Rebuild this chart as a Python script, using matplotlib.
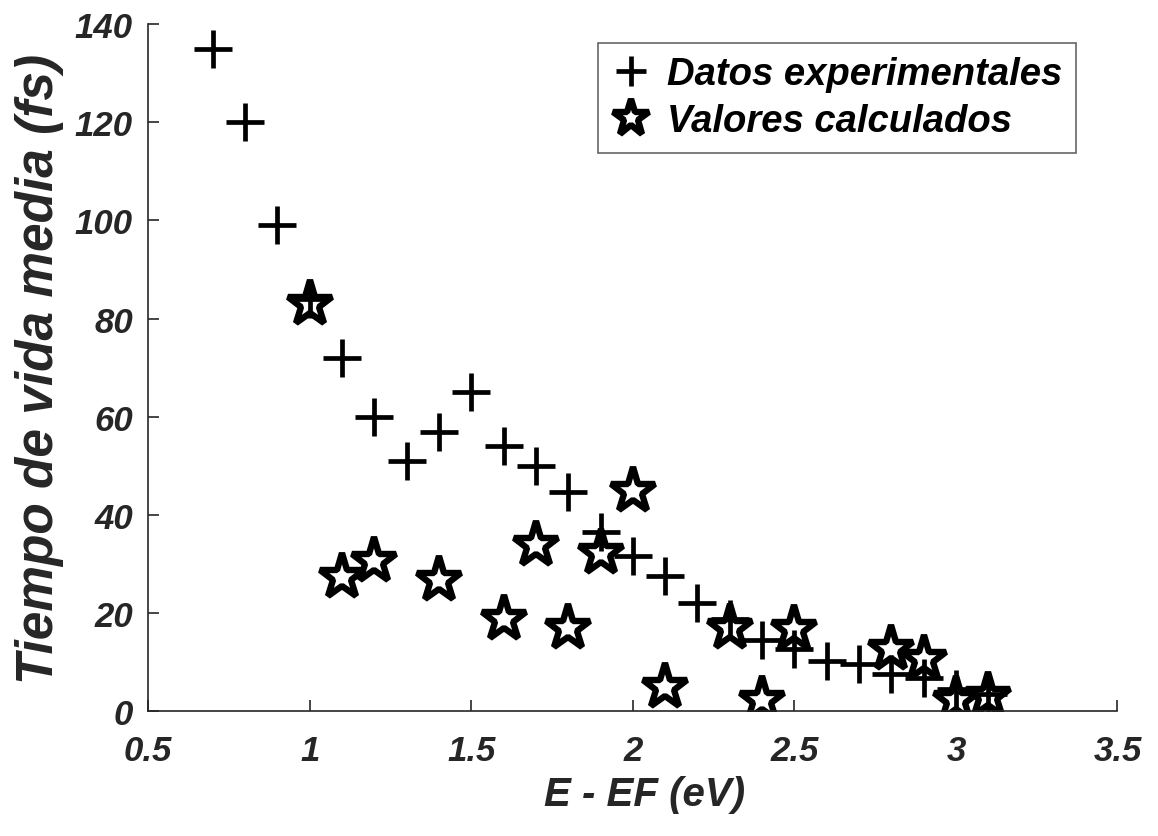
import matplotlib.pyplot as plt

# datos
exp_x = [0.7, 0.8, 0.9, 1.0, 1.1, 1.2, 1.3, 1.4, 1.5, 1.6, 1.7, 1.8, 1.9, 2.0,
         2.1, 2.2, 2.3, 2.4, 2.5, 2.6, 2.7, 2.8, 2.9, 3.0, 3.1]
exp_y = [135, 120, 99, 84, 72, 60, 51, 57, 65, 54, 50, 44.6, 36.5, 31.6,
         27.5, 22, 18.7, 14.6, 12.6, 10.2, 9.6, 7.5, 6.7, 4.5, 3.5]

calc_x = [1.0, 1.1, 1.2, 1.4, 1.6, 1.7, 1.8, 1.9, 2.0, 2.1, 2.3, 2.4, 2.5,
          2.8, 2.9, 3.0, 3.1]
calc_y = [83, 27.3, 30.7, 26.7, 18.7, 33.8, 16.9, 32.3, 44.8, 4.9, 17, 2.4,
          16.7, 12.6, 10.6, 2.4, 3.1]

xticks = [0.5, 1, 1.5, 2, 2.5, 3, 3.5]
xtick_labels = ['0.5', '1', '1.5', '2', '2.5', '3', '3.5']
yticks = [0, 20, 40, 60, 80, 100, 120, 140]

plt.rcParams['font.family'] = ['Liberation Sans', 'DejaVu Sans']
plt.rcParams['font.weight'] = 'bold'
plt.rcParams['font.style'] = 'italic'

fig = plt.figure(figsize=(11.58, 8.37), dpi=100)
ax = fig.add_axes([0.128, 0.149, 0.837, 0.821])

ax.plot(exp_x, exp_y, linestyle='none', marker='+', color='black',
        markersize=27, markeredgewidth=3.4, label='Datos experimentales')
ax.plot(calc_x, calc_y, linestyle='none', marker='*', color='black',
        markerfacecolor='none', markersize=34, markeredgewidth=4.6,
        label='Valores calculados')

ax.set_xlim(0.5, 3.5)
ax.set_ylim(0, 140)
ax.set_xticks(xticks)
ax.set_xticklabels(xtick_labels)
ax.set_yticks(yticks)

ax.spines['top'].set_visible(False)
ax.spines['right'].set_visible(False)
for s in ('left', 'bottom'):
    ax.spines[s].set_color('#262626')
    ax.spines[s].set_linewidth(1.2)
ax.tick_params(direction='in', length=8, width=1.2, colors='#262626',
               labelcolor='#262626', labelsize=25)
ax.tick_params(axis='x', pad=16)
ax.tick_params(axis='y', pad=11)
for lab in ax.get_xticklabels() + ax.get_yticklabels():
    lab.set_fontweight('bold')
    lab.set_fontstyle('italic')

ax.set_xlabel('E - EF (eV)', fontsize=29, fontweight='bold', fontstyle='italic',
              color='#262626')
ax.xaxis.set_label_coords(0.512, -0.093)
ax.set_ylabel('Tiempo de vida media (fs)', fontsize=37, fontweight='bold',
              fontstyle='italic', color='#262626', labelpad=8)

leg = ax.legend(loc='upper right', bbox_to_anchor=(0.957, 0.973), fontsize=27.5,
                frameon=True, fancybox=False, edgecolor='#404040',
                markerscale=0.82, handlelength=1.0, handletextpad=0.45,
                borderpad=0.35, labelspacing=0.3, borderaxespad=0)
leg.get_frame().set_linewidth(1.2)
for t in leg.get_texts():
    t.set_fontweight('bold')
    t.set_fontstyle('italic')

fig.savefig('out.png', dpi=100)
